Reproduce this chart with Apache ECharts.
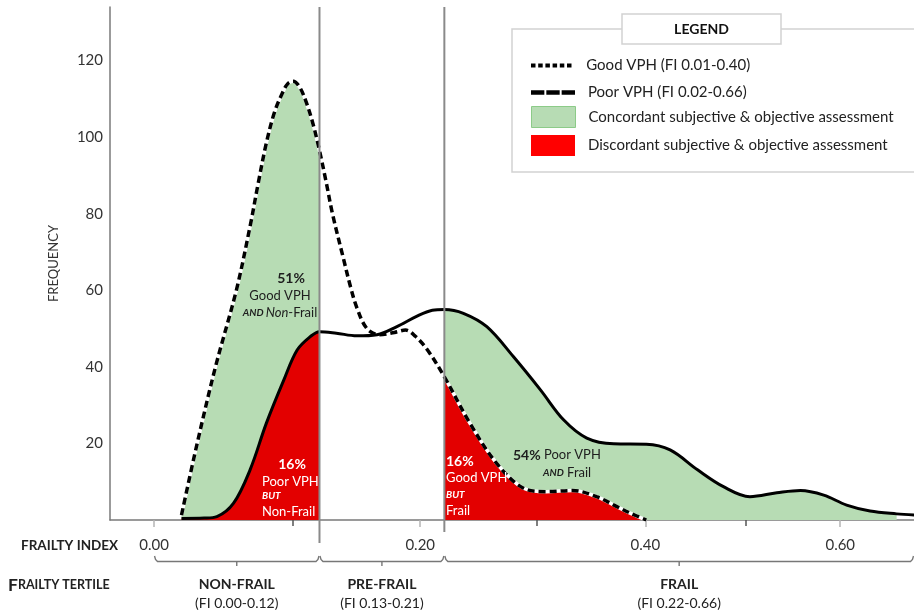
<!DOCTYPE html>
<html>
<head>
<meta charset="utf-8">
<script src="https://cdn.jsdelivr.net/npm/echarts@6/dist/echarts.min.js"></script>
<style>html,body{margin:0;padding:0;background:#fff}#c{width:914px;height:614px}</style>
</head>
<body>
<div id="c"></div>
<script>
// ---------------- data ----------------
const goodFI   = [0.019,0.030,0.043,0.058,0.068,0.074,0.080,0.086,0.092,0.096,0.100,0.105,0.110,0.115,0.120,0.125,0.130,0.138,0.144,0.149,0.157,0.167,0.179,0.188,0.196,0.206,0.220,0.2415,0.2645,0.288,0.308,0.332,0.354,0.373,0.386,0.401];
const goodFreq = [1.3,20,40,60,76.7,88,98.5,106.5,111.6,114,114.6,113,109,103.5,96.5,88.5,80,69,61,55.5,50,48.4,49,49.6,48,44.4,37.4,25.3,14.8,8.3,7.4,7.7,6.1,3.5,1.75,0];
const poorFI   = [0.019,0.035,0.044,0.056,0.068,0.080,0.093,0.103,0.113,0.120,0.133,0.149,0.165,0.181,0.197,0.210,0.220,0.236,0.256,0.279,0.303,0.324,0.345,0.370,0.401,0.424,0.451,0.477,0.504,0.532,0.557,0.582,0.607,0.633,0.663,0.683];
const poorFreq = [0.4,0.5,0.9,4.4,13.1,25.3,36.6,44.4,47.9,49.2,48.8,48.1,48.4,50.5,53.2,54.8,55,54,50.5,42.7,34,26.1,21.4,19.9,19.8,18.3,13.1,8.7,6.1,7.1,7.7,6.5,3.9,2.35,1.6,1.3];
const xLabelFI    = [0, 0.2, 0.4, 0.6];
const xTickLabels = ['0.00', '0.20', '0.40', '0.60'];
const xMinorFI    = [0.1, 0.3, 0.5];
const yTickValues = [20, 40, 60, 80, 100, 120];
const tertileNames  = ['NON-FRAIL', 'PRE-FRAIL', 'FRAIL'];
const tertileRanges = ['(FI 0.00-0.12)', '(FI 0.13-0.21)', '(FI 0.22-0.66)'];
const tertileCuts   = [0.12, 0.22];
const legendNames = ['Good VPH (FI 0.01-0.40)', 'Poor VPH (FI 0.02-0.66)', 'Concordant subjective & objective assessment', 'Discordant subjective & objective assessment'];
const FI_MIN = -0.0297, FI_MAX = 0.6829;

// ---------------- helpers ----------------
const FONT = 'Lato, "Open Sans", sans-serif';
const GREEN = '#b7dcb4', RED = '#e30000';
const toX = f => 1 + f;
const pairs = (fis, vals) => fis.map((f, i) => [toX(f), vals[i]]);
const within = (fis, vals, lo, hi) => pairs(fis, vals).filter(p => p[0] >= toX(lo) - 1e-9 && p[0] <= toX(hi) + 1e-9);
const SM = 0.35;

const chart = echarts.init(document.getElementById('c'));

function areaSeries(name, data, color) {
  return { name, type: 'line', data, smooth: SM, symbol: 'none', silent: true,
    itemStyle: { color }, lineStyle: { width: 0, color }, areaStyle: { color, opacity: 1 }, z: 1 };
}

const option = {
  animation: false,
  grid: { left: 110, right: 0, top: 7, bottom: 94 },
  legend: [
    { data: [{ name: legendNames[0], icon: 'path://M0,0h4.5v4h-4.5zM7.2,0h4.5v4h-4.5zM14.4,0h4.5v4h-4.5zM21.6,0h4.5v4h-4.5zM28.8,0h4.5v4h-4.5zM36,0h4.5v4h-4.5z', itemStyle: { color: '#000', borderWidth: 0 } }],
      left: 531, top: 58, itemWidth: 44, itemHeight: 4 },
    { data: [{ name: legendNames[1], icon: 'path://M0,0h13.5v4.5h-13.5zM15.5,0h13.5v4.5h-13.5zM31,0h13.5v4.5h-13.5z', itemStyle: { color: '#000', borderWidth: 0 } }],
      left: 531, top: 85, itemWidth: 44, itemHeight: 4.5 },
    { data: [{ name: legendNames[2], icon: 'rect', itemStyle: { color: GREEN, borderColor: '#8ccb88', borderWidth: 1 } }],
      left: 531, top: 106, itemWidth: 44, itemHeight: 21 },
    { data: [{ name: legendNames[3], icon: 'rect', itemStyle: { color: '#ff0000', borderWidth: 0 } }],
      left: 531, top: 135, itemWidth: 44, itemHeight: 21 }
  ].map(l => Object.assign(l, { orient: 'horizontal', padding: 0, selectedMode: false,
      textStyle: { fontSize: 15, color: '#222', fontFamily: FONT, padding: [0, 0, 0, 8] } })),
  xAxis: [
    { type: 'log', logBase: 10, min: toX(FI_MIN), max: toX(FI_MAX), position: 'bottom',
      axisLine: { show: true, lineStyle: { color: '#7a7a7a', width: 1.5 } },
      axisTick: { show: true, customValues: xLabelFI.map(toX), length: 7, lineStyle: { color: '#b5b5b5', width: 1.5 } },
      axisLabel: { customValues: xLabelFI.map(toX), margin: 18, fontSize: 15, color: '#333', fontFamily: FONT,
        formatter: v => { const i = xLabelFI.findIndex(f => Math.abs(toX(f) - v) < 1e-6); return i >= 0 ? xTickLabels[i] : ''; } },
      splitLine: { show: false }, minorTick: { show: false } },
    { type: 'log', logBase: 10, min: toX(FI_MIN), max: toX(FI_MAX), position: 'bottom',
      axisLine: { show: false },
      axisTick: { show: true, customValues: xMinorFI.map(toX), length: 6, lineStyle: { color: '#555', width: 1.5 } },
      axisLabel: { show: false }, splitLine: { show: false } }
  ],
  yAxis: { type: 'value', min: 0, max: 134,
    name: 'FREQUENCY', nameLocation: 'middle', nameGap: 50, nameRotate: 90,
    nameTextStyle: { fontSize: 13, color: '#333', fontFamily: FONT },
    axisLine: { show: true, lineStyle: { color: '#7a7a7a', width: 1.5 } },
    axisTick: { show: false }, splitLine: { show: false },
    axisLabel: { customValues: yTickValues, fontSize: 15, color: '#333', margin: 7, fontFamily: FONT } },
  series: [
    areaSeries(legendNames[2], within(goodFI, goodFreq, FI_MIN, tertileCuts[0]), GREEN),
    areaSeries(legendNames[2], within(poorFI, poorFreq, tertileCuts[1], FI_MAX), GREEN),
    areaSeries(legendNames[3], within(poorFI, poorFreq, FI_MIN, tertileCuts[0]), RED),
    areaSeries(legendNames[3], within(goodFI, goodFreq, tertileCuts[1], FI_MAX), RED),
    { name: 'good-underlay', type: 'line', data: pairs(goodFI, goodFreq), smooth: SM, symbol: 'none', silent: true,
      lineStyle: { color: '#fff', width: 3.5 }, itemStyle: { color: '#fff' }, z: 3 },
    { name: legendNames[1], type: 'line', data: pairs(poorFI, poorFreq), smooth: SM, symbol: 'none', silent: true,
      lineStyle: { color: '#000', width: 3 }, itemStyle: { color: '#000' }, z: 4 },
    { name: legendNames[0], type: 'line', data: pairs(goodFI, goodFreq), smooth: SM, symbol: 'none', silent: true,
      lineStyle: { color: '#000', width: 3.5, type: [7, 4] }, itemStyle: { color: '#000' }, z: 5 }
  ]
};
chart.setOption(option);

// ---------------- decorations positioned through the axes ----------------
const px = f => chart.convertToPixel({ xAxisIndex: 0 }, toX(f));
const b0 = px(0), b1 = px(tertileCuts[0]), b2 = px(tertileCuts[1]), b3 = px(FI_MAX);
const G = [];
const gray = '#8a8a8a';
G.push({ type: 'line', z: 20, shape: { x1: b1, y1: 7, x2: b1, y2: 543 }, style: { stroke: gray, lineWidth: 2 } });
G.push({ type: 'line', z: 20, shape: { x1: b2, y1: 7, x2: b2, y2: 532 }, style: { stroke: gray, lineWidth: 2 } });
const braceY = 561.5;
[[b0, b1], [b1, b2], [b2, b3]].forEach(([L, R], i) => {
  const mid = (L + R) / 2;
  G.push({ type: 'polyline', z: 20, shape: { points: [[L + 0.5, 556], [L + 1.5, 559.5], [L + 3.5, braceY], [R - 3.5, braceY], [R - 1.5, 559.5], [R - 0.5, 556]] },
    style: { stroke: '#777', lineWidth: 1.4, fill: null } });
  G.push({ type: 'line', z: 20, shape: { x1: mid, y1: braceY, x2: mid, y2: 566 }, style: { stroke: '#777', lineWidth: 1.4 } });
  G.push({ type: 'text', z: 20, style: { x: mid, y: 584, text: tertileNames[i], align: 'center', verticalAlign: 'middle',
    fontSize: 14, fontWeight: 'bold', fontFamily: FONT, fill: '#222' } });
  G.push({ type: 'text', z: 20, style: { x: mid, y: 603, text: tertileRanges[i], align: 'center', verticalAlign: 'middle',
    fontSize: 14, fontFamily: FONT, fill: '#222' } });
});
G.push({ type: 'text', z: 20, style: { x: 21, y: 546, text: 'FRAILTY INDEX', align: 'left', verticalAlign: 'middle',
  fontSize: 13.5, fontWeight: 'bold', fontFamily: FONT, fill: '#222' } });
G.push({ type: 'text', z: 20, style: { x: 8, y: 585, text: '{a|F}{b|RAILTY TERTILE}', align: 'left', verticalAlign: 'middle',
  fill: '#222', rich: { a: { fontSize: 17.5, fontWeight: 'bold', fontFamily: FONT, fill: '#222' }, b: { fontSize: 12.5, fontWeight: 'bold', fontFamily: FONT, fill: '#222' } } } });

// legend frame
G.push({ type: 'rect', z: 1, shape: { x: 512, y: 29, width: 420, height: 143 }, style: { fill: '#fff', stroke: '#d2d2d2', lineWidth: 1.5 } });
G.push({ type: 'rect', z: 6, shape: { x: 622, y: 14, width: 159, height: 30 }, style: { fill: '#fff', stroke: '#d2d2d2', lineWidth: 1.5 } });
G.push({ type: 'text', z: 7, style: { x: 701.5, y: 29.5, text: 'LEGEND', align: 'center', verticalAlign: 'middle',
  fontSize: 14, fontWeight: 'bold', fontFamily: FONT, fill: '#111' } });

// in-plot annotations
const dark = '#1e1e1e';
const rich = (fill) => ({
  p: { fontSize: 14, fontWeight: 'bold', fontFamily: FONT, fill },
  t: { fontSize: 13, fontFamily: FONT, fill },
  i: { fontSize: 13, fontStyle: 'italic', fontFamily: FONT, fill },
  k: { fontSize: 10, fontStyle: 'italic', fontWeight: 'bold', fontFamily: FONT, fill }
});
function note(x, y, text, fill, align) {
  G.push({ type: 'text', z: 20, style: { x, y, text, align: align || 'left', verticalAlign: 'middle', rich: rich(fill), fill } });
}
note(291, 278, '{p|51%}', dark, 'center');
note(280, 296, '{t|Good VPH}', dark, 'center');
note(280, 312.5, '{k|AND }{i|Non}{t|-Frail}', dark, 'center');
note(292, 464, '{p|16%}', '#fff', 'center');
note(262, 481.5, '{t|Poor VPH}', '#fff');
note(262, 496, '{k|BUT}', '#fff');
note(262, 511.5, '{t|Non-Frail}', '#fff');
note(446, 461, '{p|16%}', '#fff');
note(446, 478, '{t|Good VPH}', '#fff');
note(446, 495, '{k|BUT}', '#fff');
note(446, 511, '{t|Frail}', '#fff');
note(513, 455, '{p|54%}{t| Poor VPH}', dark);
note(543, 473, '{k|AND}{t| Frail}', dark);

chart.setOption({ graphic: { elements: G } });
</script>
</body>
</html>
